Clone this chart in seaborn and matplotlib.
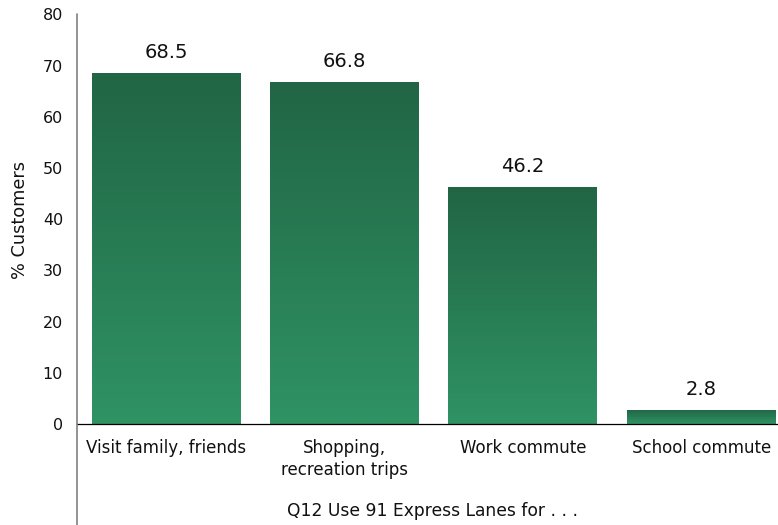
import matplotlib
matplotlib.use("Agg")
import matplotlib.pyplot as plt
import seaborn as sns
import numpy as np
import pandas as pd
from matplotlib.colors import LinearSegmentedColormap
from matplotlib.lines import Line2D

categories = ["Visit family, friends", "Shopping,\nrecreation trips", "Work commute", "School commute"]
values = [68.5, 66.8, 46.2, 2.8]
value_labels = ["68.5", "66.8", "46.2", "2.8"]
yticks = [0, 10, 20, 30, 40, 50, 60, 70, 80]

sns.set_theme(style="white")
plt.rcParams["font.family"] = ["DejaVu Sans"]

W, H = 778, 525
fig = plt.figure(figsize=(W / 100, H / 100), dpi=100)
ax_left, ax_right, ax_bottom, ax_top = 77, 778, 424, 14.4
ax = fig.add_axes([ax_left / W, (H - ax_bottom) / H, (ax_right - ax_left) / W, (ax_bottom - ax_top) / H])

df = pd.DataFrame({"cat": categories, "val": values})
sns.barplot(data=df, x="cat", y="val", color="#2a7d56", width=0.835, ax=ax, saturation=1)

cmap = LinearSegmentedColormap.from_list("g", ["#2f9364", "#216545"])
grad = np.linspace(0, 1, 256).reshape(-1, 1)
for p in ax.patches:
    x0, y0 = p.get_x(), p.get_y()
    w, h = p.get_width(), p.get_height()
    p.set_facecolor("none")
    p.set_edgecolor("none")
    im = ax.imshow(grad, cmap=cmap, aspect="auto", origin="lower",
                   extent=[x0, x0 + w, y0, y0 + h], zorder=2, interpolation="bilinear")
    im.set_clip_path(p)

for i, (v, lab) in enumerate(zip(values, value_labels)):
    ax.annotate(lab, (i, v), xytext=(0, 8), textcoords="offset points",
                ha="center", va="bottom", fontsize=14, color="#111111")

ax.set_xlim(-0.5, 3.43)
ax.set_ylim(0, 80)
ax.set_yticks(yticks)
ax.set_yticklabels([str(t) for t in yticks], fontsize=11.5, color="#111111")
ax.tick_params(axis="y", length=0, pad=10)
ax.tick_params(axis="x", length=0, pad=11, labelsize=12, labelcolor="#111111")
for t in ax.get_xticklabels():
    t.set_linespacing(1.3)
ax.set_xlabel("")
ax.set_ylabel("")

for s in ["top", "right", "left"]:
    ax.spines[s].set_visible(False)
ax.spines["bottom"].set_color("#000000")
ax.spines["bottom"].set_linewidth(0.9)

fig.add_artist(Line2D([ax_left / W, ax_left / W], [0, (H - ax_top) / H],
                      transform=fig.transFigure, color="#808080", linewidth=1.2))

fig.text(20 / W, (H - 220) / H, "% Customers", rotation=90, ha="center", va="center",
         fontsize=12.8, color="#111111")
fig.text(432 / W, (H - 511) / H, "Q12 Use 91 Express Lanes for . . .", ha="center", va="center",
         fontsize=12.3, color="#111111")

fig.savefig("out.png", dpi=100)
